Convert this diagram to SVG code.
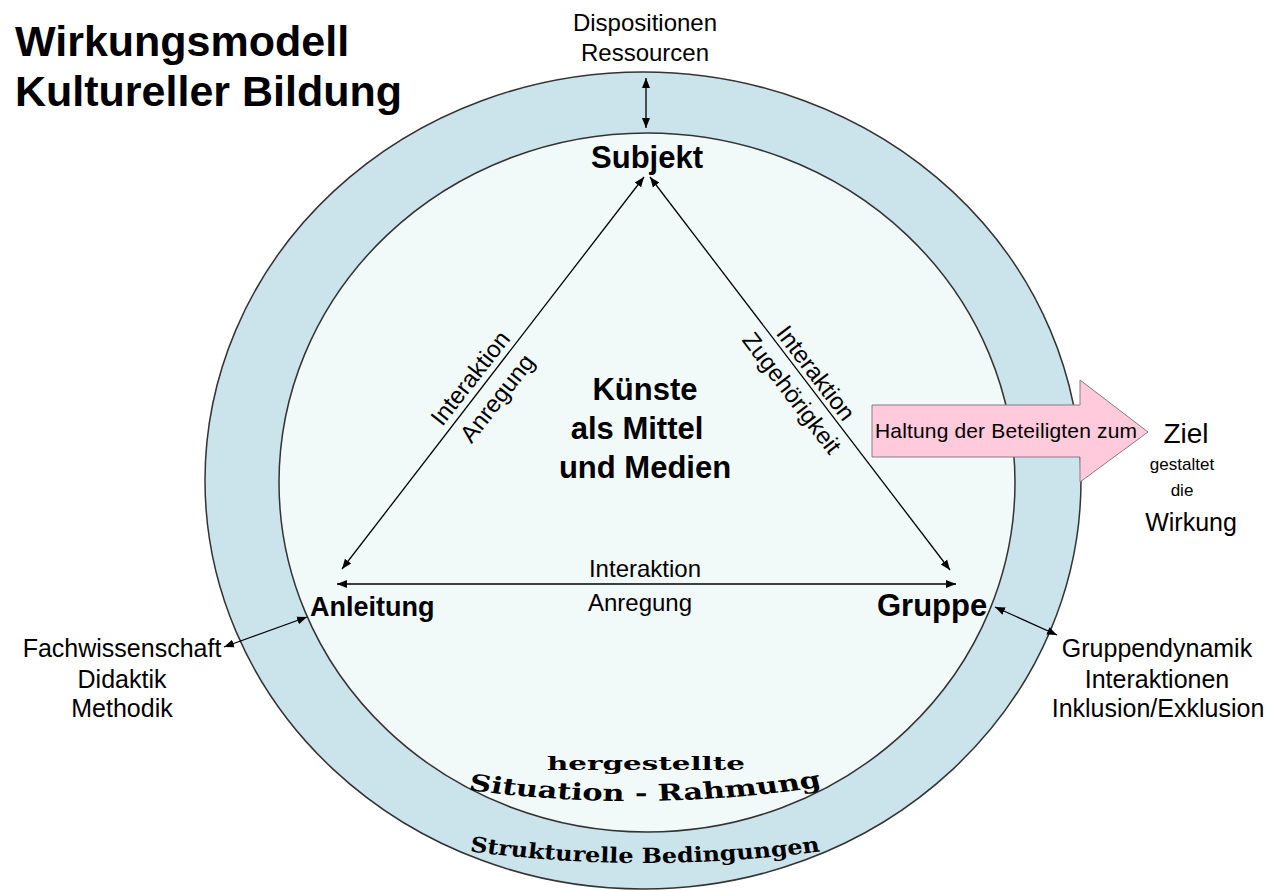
<svg xmlns="http://www.w3.org/2000/svg" width="1278" height="891" viewBox="0 0 1278 891">
<style>
.t{font-family:"Liberation Sans",Arial,sans-serif;fill:#000}
.b{font-weight:bold}
.s{font-family:"DejaVu Serif","Liberation Serif",serif;font-weight:bold;fill:#000}
.ln{stroke:#000;stroke-width:1.3;fill:none}
</style>
<defs>
<marker id="ah" viewBox="0 0 10 10" refX="10" refY="5" markerWidth="10" markerHeight="10" markerUnits="userSpaceOnUse" orient="auto-start-reverse">
<path d="M0,1 L10,5 L0,9 z" fill="#000"/>
</marker>
<path id="arc1" d="M489.7,786 Q645,818 800.3,782"/>
<path id="arc2" d="M465.2,847 Q645,879 824.8,847"/>
</defs>
<rect width="1278" height="891" fill="#fff"/>
<g id="outer-ring">
<ellipse cx="643" cy="480.5" rx="438" ry="408.5" fill="#CBE3EA" stroke="#333" stroke-width="1.5"/>
</g>
<g id="inner-circle">
<ellipse cx="647" cy="482.5" rx="368" ry="349.5" fill="#F1F9F9" stroke="#333" stroke-width="1.5"/>
</g>
<g id="title">
<text class="t b" x="15" y="56" font-size="43">Wirkungsmodell</text>
<text class="t b" x="15" y="106" font-size="43">Kultureller Bildung</text>
</g>
<g id="connectors">
<line class="ln" x1="646" y1="78" x2="646" y2="128" marker-start="url(#ah)" marker-end="url(#ah)"/>
<line class="ln" x1="342" y1="569" x2="644" y2="177" marker-start="url(#ah)" marker-end="url(#ah)"/>
<line class="ln" x1="650" y1="177" x2="950" y2="570" marker-start="url(#ah)" marker-end="url(#ah)"/>
<line class="ln" x1="337" y1="584" x2="956" y2="584" marker-start="url(#ah)" marker-end="url(#ah)"/>
<line class="ln" x1="224" y1="647" x2="307" y2="617" marker-start="url(#ah)" marker-end="url(#ah)"/>
<line class="ln" x1="995" y1="607" x2="1057" y2="635" marker-start="url(#ah)" marker-end="url(#ah)"/>
<text class="t" font-size="24" text-anchor="middle" transform="translate(470,378) rotate(-52)" dy="0.35em">Interaktion</text>
<text class="t" font-size="24" text-anchor="middle" transform="translate(497,398) rotate(-52)" dy="0.35em">Anregung</text>
<text class="t" font-size="24" text-anchor="middle" transform="translate(816,373) rotate(52.6)" dy="0.35em">Interaktion</text>
<text class="t" font-size="24" text-anchor="middle" transform="translate(792,393) rotate(52.6)" dy="0.35em">Zugehörigkeit</text>
<text class="t" font-size="24" text-anchor="middle" x="645" y="577">Interaktion</text>
<text class="t" font-size="24" text-anchor="middle" x="640" y="611">Anregung</text>
</g>
<g id="dispositionen">
<text class="t" font-size="24" text-anchor="middle" x="645" y="31">Dispositionen</text>
<text class="t" font-size="24" text-anchor="middle" x="645" y="61">Ressourcen</text>
</g>
<g id="subjekt">
<text class="t b" font-size="31" text-anchor="middle" x="647" y="168">Subjekt</text>
</g>
<g id="kuenste">
<text class="t b" font-size="31" text-anchor="middle" x="645" y="400">Künste</text>
<text class="t b" font-size="31" text-anchor="middle" x="637" y="439">als Mittel</text>
<text class="t b" font-size="31" text-anchor="middle" x="645" y="478">und Medien</text>
</g>
<g id="anleitung">
<text class="t b" font-size="27" x="310" y="616">Anleitung</text>
</g>
<g id="gruppe">
<text class="t b" font-size="31" x="877" y="616">Gruppe</text>
</g>
<g id="fachwissenschaft">
<text class="t" font-size="25" text-anchor="middle" x="122" y="657">Fachwissenschaft</text>
<text class="t" font-size="25" text-anchor="middle" x="122" y="688">Didaktik</text>
<text class="t" font-size="25" text-anchor="middle" x="122" y="717">Methodik</text>
</g>
<g id="gruppendynamik">
<text class="t" font-size="25" text-anchor="middle" x="1157" y="657">Gruppendynamik</text>
<text class="t" font-size="25" text-anchor="middle" x="1157" y="688">Interaktionen</text>
<text class="t" font-size="25" text-anchor="middle" x="1158" y="717">Inklusion/Exklusion</text>
</g>
<g id="haltung-arrow">
<path d="M872,405 L1080,405 L1080,380 L1148,432 L1080,482 L1080,457 L872,457 Z" fill="#FFCADB" stroke="#8a7a80" stroke-width="1"/>
<text class="t" font-size="21" x="875" y="438" textLength="262">Haltung der Beteiligten zum</text>
</g>
<g id="ziel">
<text class="t" font-size="28" text-anchor="middle" x="1186" y="443">Ziel</text>
<text class="t" font-size="17" text-anchor="middle" x="1182" y="470">gestaltet</text>
<text class="t" font-size="17" text-anchor="middle" x="1182" y="496">die</text>
<text class="t" font-size="25" text-anchor="middle" x="1191" y="531">Wirkung</text>
</g>
<g id="situation">
<text class="s" font-size="19" x="547" y="770" textLength="198" lengthAdjust="spacingAndGlyphs">hergestellte</text>
<g transform="translate(645,0) scale(1.32,1) translate(-645,0)">
<text class="s" font-size="23"><textPath href="#arc1" startOffset="50%" text-anchor="middle">Situation - Rahmung</textPath></text>
</g>
</g>
<g id="strukturelle">
<g transform="translate(645,0) scale(1.14,1) translate(-645,0)">
<text class="s" font-size="21"><textPath href="#arc2" startOffset="50%" text-anchor="middle">Strukturelle Bedingungen</textPath></text>
</g>
</g>
</svg>
